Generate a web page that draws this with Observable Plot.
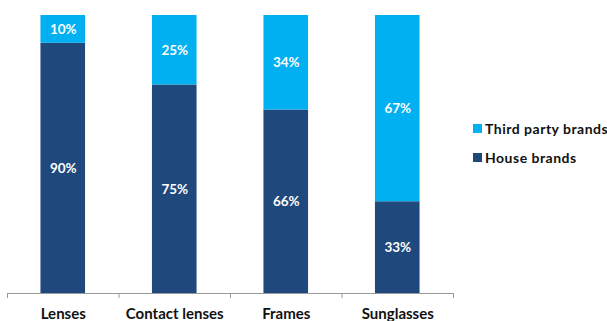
<!DOCTYPE html>
<html><head><meta charset="utf-8">
<script src="https://cdn.jsdelivr.net/npm/d3@7"></script>
<script src="https://cdn.jsdelivr.net/npm/@observablehq/plot@0.6"></script>
<style>
html,body{margin:0;padding:0;background:#fff;}
#wrap{position:relative;width:607px;height:321px;font-family:Lato,"Open Sans",sans-serif;}
.legend{position:absolute;left:473px;font-weight:bold;font-size:14px;letter-spacing:0.5px;color:#111;display:flex;align-items:center;white-space:nowrap;}
.legend span.sw{display:inline-block;width:9px;height:9px;margin-right:3px;}
</style></head>
<body><div id="wrap"></div>
<script>
const categories = ["Lenses", "Contact lenses", "Frames", "Sunglasses"];
const houseBrands = [90, 75, 66, 33];
const thirdParty = [10, 25, 34, 67];
const seriesNames = ["Third party brands", "House brands"];
const colors = {"House brands": "#1F497D", "Third party brands": "#00B0F0"};

const rows = [];
categories.forEach((c, i) => {
  rows.push({i, cat: c, series: "House brands", y1: 0, y2: houseBrands[i], v: houseBrands[i]});
  rows.push({i, cat: c, series: "Third party brands", y1: houseBrands[i], y2: houseBrands[i] + thirdParty[i], v: thirdParty[i]});
});
const boundaries = d3.range(categories.length + 1);

const chart = Plot.plot({
  width: 607, height: 321,
  marginLeft: 7, marginRight: 154, marginTop: 15, marginBottom: 28,
  x: {type: "linear", domain: [0, categories.length], axis: null},
  y: {type: "linear", domain: [0, 100], axis: null},
  style: {fontFamily: "Lato, 'Open Sans', sans-serif"},
  marks: [
    Plot.rect(rows, {x1: d => d.i + 0.3, x2: d => d.i + 0.7, y1: "y1", y2: "y2", fill: d => colors[d.series]}),
    Plot.text(rows, {x: d => d.i + 0.5, y: d => (d.y1 + d.y2) / 2, text: d => d.v + "%", fill: "white", fontWeight: "bold", fontSize: 13.5, letterSpacing: 0.8}),
    Plot.ruleY([0], {stroke: "#999", strokeWidth: 1}),
    Plot.ruleX(boundaries, {x: d => d, y1: 0, y2: 0, stroke: "#999", insetBottom: -5}),
    Plot.text(categories, {x: (d, i) => i + 0.5, y: 0, text: d => d, dy: 21, fontWeight: "bold", fontSize: 15, letterSpacing: 0.8, fill: "#111"})
  ]
});
const wrap = document.getElementById("wrap");
wrap.appendChild(chart);
[["Third party brands", 120], ["House brands", 149]].forEach(([name, top]) => {
  const el = document.createElement("div");
  el.className = "legend";
  el.style.top = top + "px";
  el.innerHTML = `<span class="sw" style="background:${colors[name]}"></span>${name}`;
  wrap.appendChild(el);
});
</script></body></html>
